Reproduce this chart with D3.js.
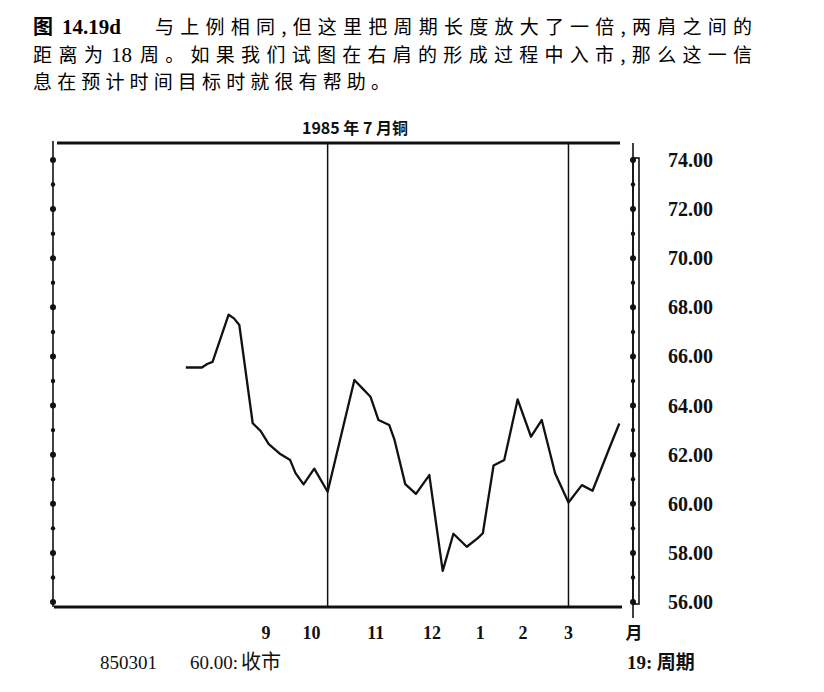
<!DOCTYPE html>
<html>
<head>
<meta charset="utf-8">
<script src="https://cdn.jsdelivr.net/npm/d3@7"></script>
<style>
  html, body { margin: 0; padding: 0; background: #fff; }
  svg { display: block; }
</style>
</head>
<body>
<svg id="chart" width="824" height="692"></svg>
<script>
// ---- data (trading-day index vs. close price) ----
const days   = [0, 6, 8, 10, 16, 18, 20, 25, 28, 31, 35, 39, 41, 44, 48, 53,
                63, 66, 69, 72, 76, 78, 82, 86, 91, 96, 100, 105, 109, 111,
                115, 119, 124, 129, 133, 138, 143, 148, 152, 158, 162];
const prices = [65.55, 65.55, 65.69, 65.78, 67.70, 67.55, 67.28, 63.28, 62.96, 62.43, 62.05, 61.78, 61.25, 60.79, 61.43, 60.49,
                65.04, 64.70, 64.36, 63.41, 63.21, 62.60, 60.80, 60.40, 61.17, 57.27, 58.78, 58.25, 58.59, 58.80,
                61.56, 61.78, 64.25, 62.73, 63.41, 61.24, 60.05, 60.76, 60.53, 62.19, 63.27];
const cycleLines  = [53, 143];                 // shoulder lows, 18 weeks apart
const monthLabels = ["9", "10", "11", "12", "1", "2", "3"];
const monthPos    = [30, 47, 71, 92, 110, 126, 143];
const yLabelTicks = [56, 58, 60, 62, 64, 66, 68, 70, 72, 74];
const yMinorTicks = d3.range(56, 75, 1);
const titleText   = "1985 年 7 月铜";

const svg = d3.select("#chart");
const serif = "'Liberation Serif', 'DejaVu Serif', serif";
const cjk = "'Noto Sans CJK SC', 'Noto Sans', sans-serif";
const ink = "#111";

// ---- caption ----
const cap = svg.append("g").attr("fill", "#000").attr("font-size", 19);
function seg(xp, yp, txt, font, opts = {}) {
  const t = cap.append("text").attr("x", xp).attr("y", yp).attr("font-family", font).text(txt);
  if (opts.len) t.attr("textLength", opts.len).attr("lengthAdjust", "spacing");
  if (opts.bold) t.attr("font-weight", "bold");
  if (opts.size) t.attr("font-size", opts.size);
  return t;
}
seg(33, 34, "图", cjk, { bold: true, size: 20 });
seg(62, 34, "14.19d", serif, { bold: true, size: 21 });
seg(155, 34, "与上例相同,但这里把周期长度放大了一倍,两肩之间的", cjk, { len: 597 });
seg(33, 62, "距离为", cjk, { len: 70 });
seg(111, 62, "18", serif, { size: 21 });
seg(140, 62, "周。如果我们试图在右肩的形成过程中入市,那么这一信", cjk, { len: 612 });
seg(33, 89, "息在预计时间目标时就很有帮助。", cjk, { len: 357 });

// ---- scales ----
const x = d3.scaleLinear().domain([-50, 163]).range([52, 622]);
const y = d3.scaleLinear().domain([56, 74]).range([602, 160]);
const topY = 143, botY = 607;

// frame lines
svg.append("line").attr("x1", 57).attr("x2", 620).attr("y1", topY).attr("y2", topY)
  .attr("stroke", ink).attr("stroke-width", 3);
svg.append("line").attr("x1", 54).attr("x2", 622).attr("y1", botY).attr("y2", botY)
  .attr("stroke", ink).attr("stroke-width", 3.2);
// left axis
svg.append("line").attr("x1", 53).attr("x2", 53).attr("y1", 141).attr("y2", botY)
  .attr("stroke", ink).attr("stroke-width", 1.6);
// right axis
svg.append("line").attr("x1", 633).attr("x2", 633).attr("y1", topY).attr("y2", 618)
  .attr("stroke", ink).attr("stroke-width", 1.6);
svg.append("rect").attr("x", 633).attr("y", y(74) - 2).attr("width", 6)
  .attr("height", y(56) - y(74) + 4).attr("fill", "none")
  .attr("stroke", ink).attr("stroke-width", 1.6);

// tick dots
[53, 633].forEach(ax => {
  svg.append("g").selectAll("circle").data(yMinorTicks).join("circle")
    .attr("cx", ax).attr("cy", d => y(d))
    .attr("r", d => d % 2 === 0 ? 3 : 2.2).attr("fill", ink);
});

// y labels
svg.append("g").selectAll("text").data(yLabelTicks).join("text")
  .attr("x", 668).attr("y", d => y(d) + 7)
  .attr("font-family", serif).attr("font-size", 20).attr("font-weight", "bold")
  .attr("fill", ink).text(d => d.toFixed(2));

// cycle lines
svg.append("g").selectAll("line").data(cycleLines).join("line")
  .attr("x1", d => x(d)).attr("x2", d => x(d)).attr("y1", topY).attr("y2", botY)
  .attr("stroke", ink).attr("stroke-width", 1.5);

// price line
const pts = days.map((d, i) => [d, prices[i]]);
svg.append("path").datum(pts)
  .attr("d", d3.line().x(d => x(d[0])).y(d => y(d[1])))
  .attr("fill", "none").attr("stroke", ink).attr("stroke-width", 2.3)
  .attr("stroke-linejoin", "round");

// title
svg.append("text").attr("x", 355).attr("y", 134).attr("text-anchor", "middle")
  .attr("font-family", cjk).attr("font-size", 16).attr("font-weight", "bold")
  .attr("fill", ink).text(titleText);

// month labels
svg.append("g").selectAll("text").data(monthLabels).join("text")
  .attr("x", (d, i) => x(monthPos[i])).attr("y", 639).attr("text-anchor", "middle")
  .attr("font-family", serif).attr("font-size", 18).attr("font-weight", "bold")
  .attr("fill", ink).text(d => d);
svg.append("text").attr("x", 634).attr("y", 639).attr("text-anchor", "middle")
  .attr("font-family", cjk).attr("font-size", 17).attr("font-weight", "bold")
  .attr("fill", ink).text("月");

// bottom info
svg.append("text").attr("x", 100).attr("y", 669)
  .attr("font-family", serif).attr("font-size", 19).attr("fill", ink).text("850301");
const b2 = svg.append("text").attr("x", 190).attr("y", 669).attr("font-size", 19).attr("fill", ink);
b2.append("tspan").attr("font-family", serif).text("60.00:");
b2.append("tspan").attr("font-family", cjk).attr("font-size", 20).attr("dx", 3).text("收市");
const b3 = svg.append("text").attr("x", 627).attr("y", 669).attr("font-size", 19).attr("fill", ink);
b3.append("tspan").attr("font-family", serif).attr("font-weight", "bold").text("19:");
b3.append("tspan").attr("font-family", cjk).attr("font-size", 19).attr("font-weight", "bold").text(" 周期");
</script>
</body>
</html>
